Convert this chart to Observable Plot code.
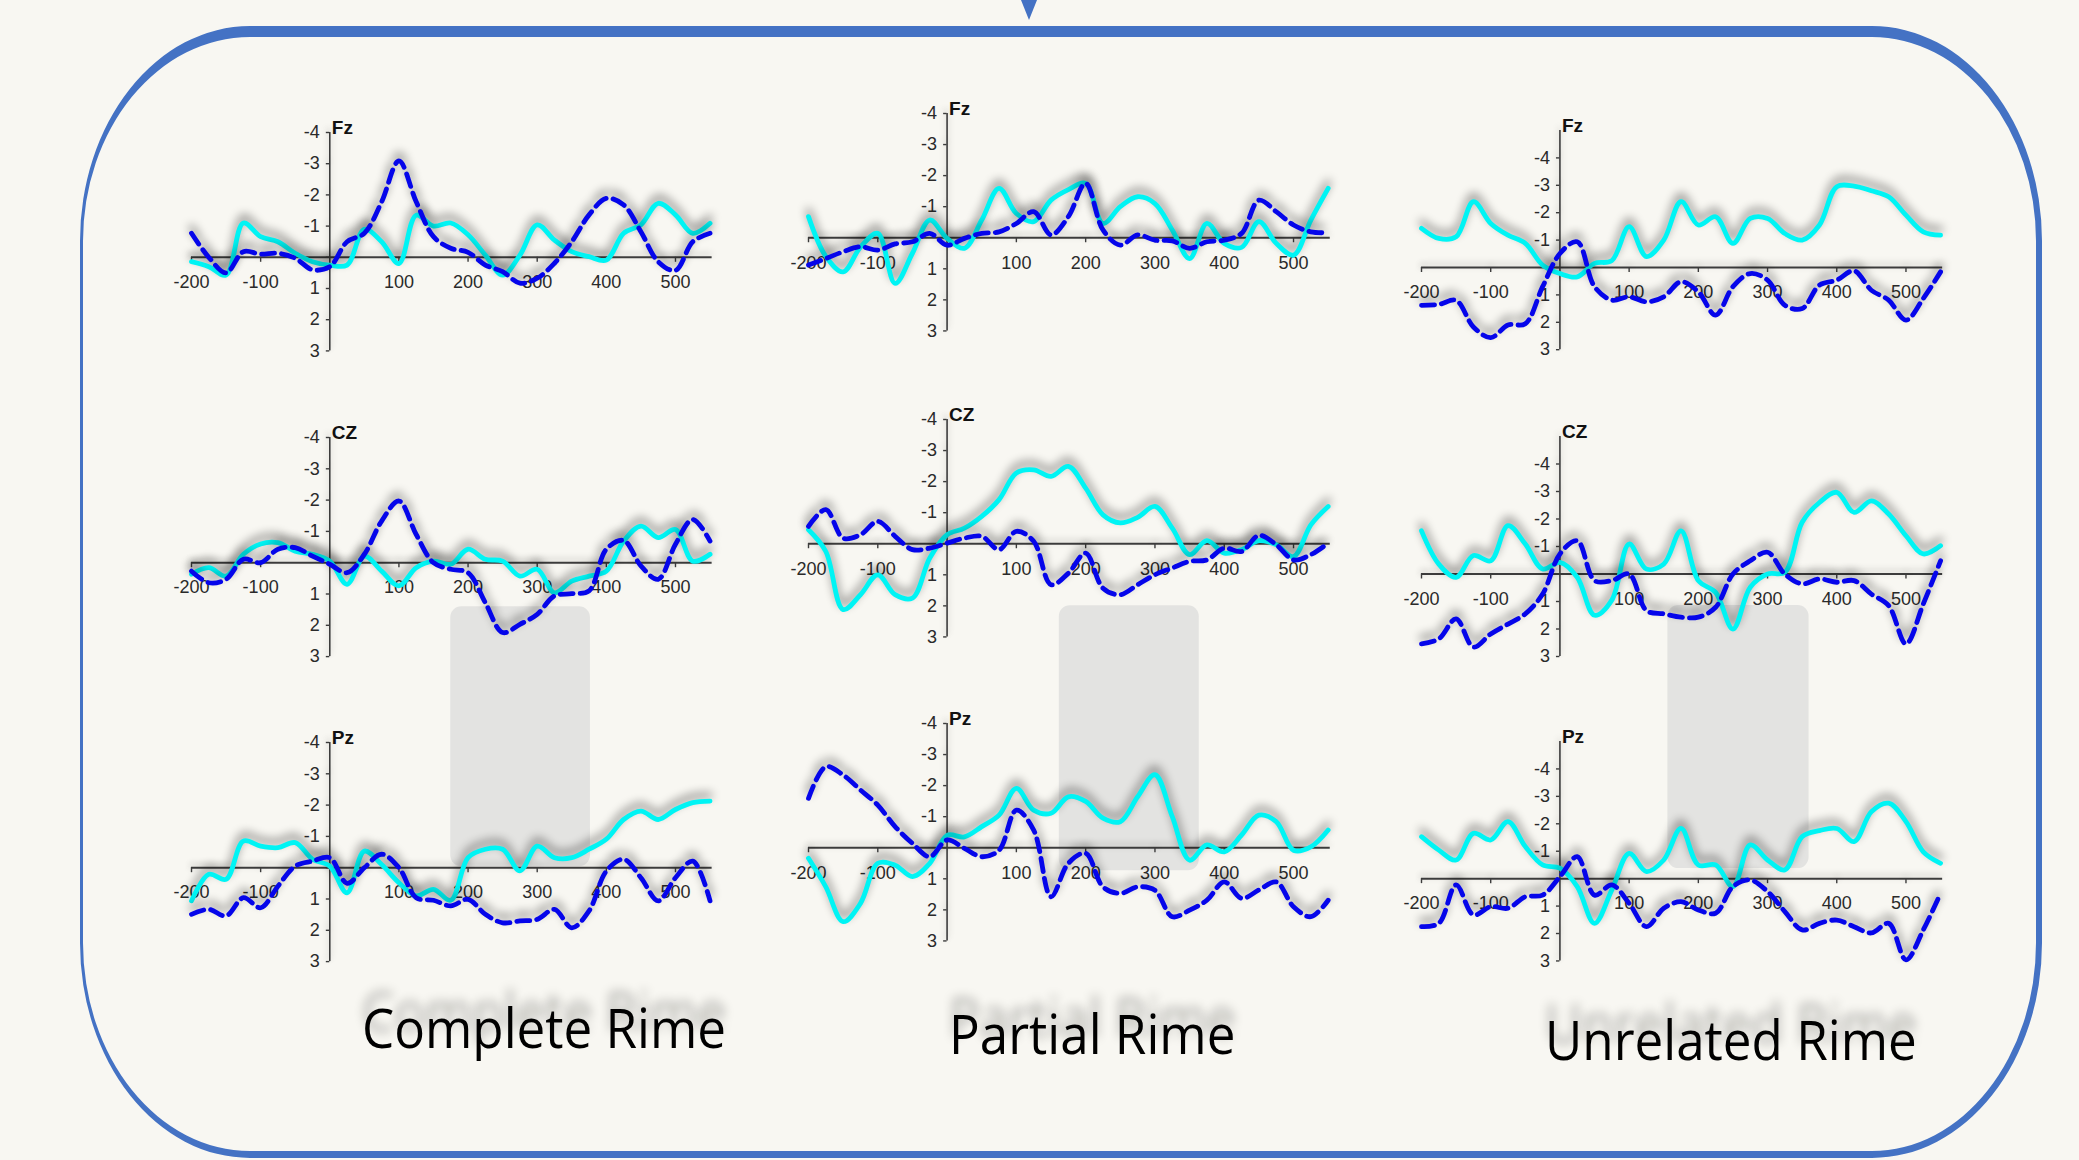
<!DOCTYPE html>
<html>
<head>
<meta charset="utf-8">
<script src="https://cdn.jsdelivr.net/npm/d3@7"></script>
<script src="https://cdn.jsdelivr.net/npm/@observablehq/plot@0.6"></script>
<style>
html, body { margin: 0; padding: 0; background: #f8f7f2; }
#page { position: relative; width: 2079px; height: 1160px; overflow: hidden; background: #f8f7f2; }
.panel { position: absolute; }
.panel svg { overflow: visible; }
.panel g[aria-label="line"] { filter: drop-shadow(0px -6px 5px rgba(0,0,0,0.48)); }
.panel g[aria-label="rule"] { filter: drop-shadow(0px -3px 3px rgba(0,0,0,0.22)); }
.frame { position: absolute; left: 80px; top: 26px; width: 1962px; height: 1132px; box-sizing: border-box;
  border-style: solid; border-color: #4472c4; border-width: 11px 6px 7px 3px; border-radius: 170px / 215px; }
.cond { position: absolute; font-family: "Open Sans", sans-serif; font-size: 55px; line-height: 55px; color: #000;
  white-space: nowrap; transform: scaleX(0.93); transform-origin: left top;
  text-shadow: 0px -17px 11px rgba(0,0,0,0.33); }
</style>
</head>
<body>
<div id="page">
  <div class="frame"></div>
  <svg style="position:absolute;left:1019px;top:0px;overflow:visible" width="20" height="22">
    <polygon points="2,0 18,0 10,20" fill="#4472c4"></polygon>
  </svg>
  <div class="cond" style="left:362px;top:999px;">Complete Rime</div>
  <div class="cond" style="left:949px;top:1005px;">Partial Rime</div>
  <div class="cond" style="left:1545px;top:1011px;">Unrelated Rime</div>
</div>
<script>
// ---------- data ----------
const times = [-200,-175,-150,-125,-100,-75,-50,-25,0,25,50,75,100,125,150,175,200,225,250,275,300,325,350,375,400,425,450,475,500,525,550];
const xTicks = [-200,-100,100,200,300,400,500];
const yTicks = [-4,-3,-2,-1,1,2,3];
const conditions = ["Complete Rime","Partial Rime","Unrelated Rime"];
const electrodes = ["Fz","CZ","Pz"];

// Complete Rime
const completeFzSolid  = [0.14,0.3,0.57,-1.1,-0.66,-0.5,-0.13,0.14,0.25,0.25,-0.9,-0.5,0.2,-1.35,-1.0,-1.1,-0.72,-0.07,0.57,-0.07,-1.04,-0.55,-0.18,-0.02,0.09,-0.77,-1.04,-1.73,-1.36,-0.77,-1.09];
const completeFzDashed = [-0.77,0,0.5,-0.18,-0.1,-0.13,0.03,0.4,0.3,-0.5,-0.77,-1.78,-3.09,-1.78,-0.66,-0.29,-0.16,0.25,0.46,0.83,0.67,0.19,-0.5,-1.36,-1.89,-1.68,-0.82,0.14,0.42,-0.5,-0.77];
const completeCzSolid  = [0.37,0.16,0.43,-0.27,-0.6,-0.64,-0.37,-0.27,-0.05,0.69,-0.21,0.27,0.74,0.16,-0.05,0.05,-0.43,-0.11,-0.05,0.43,0.21,0.96,0.59,0.43,0.27,-0.69,-1.17,-0.8,-1.06,-0.05,-0.27];
const completeCzDashed = [0.27,0.64,0.53,-0.11,0,-0.43,-0.48,-0.21,0.05,0.32,-0.27,-1.33,-1.97,-0.9,0,0.21,0.32,1.28,2.23,1.97,1.65,1.06,0.99,0.9,-0.43,-0.71,0.1,0.53,-0.59,-1.38,-0.69];
const completePzSolid  = [1.06,0.21,0.37,-0.85,-0.69,-0.64,-0.8,-0.27,-0.05,0.8,-0.53,-0.1,0.48,0.9,0.69,1.04,-0.32,-0.59,-0.59,0.1,-0.69,-0.32,-0.32,-0.59,-0.91,-1.54,-1.81,-1.54,-1.86,-2.08,-2.13];
const completePzDashed = [1.49,1.33,1.54,0.96,1.28,0.59,-0.05,-0.21,-0.32,0.5,0,-0.43,0,0.96,1.04,1.22,1.01,1.49,1.76,1.7,1.65,1.33,1.92,1.38,0.11,-0.27,0.32,1.06,0.32,-0.21,1.06];

// Partial Rime
const partialFzSolid  = [-0.68,0.6,1.1,0.3,-0.14,1.47,0.5,-0.57,0.02,0.34,-0.57,-1.59,-0.78,-0.52,-1.21,-1.55,-1.75,-0.46,-1.0,-1.32,-1.1,-0.25,0.67,-0.46,0.18,0.31,-0.52,0.18,0.56,-0.57,-1.59];
const partialFzDashed = [0.88,0.67,0.45,0.29,0.4,0.2,0.13,-0.14,0.24,0.02,-0.14,-0.19,-0.46,-0.84,-0.09,-0.68,-1.75,-0.25,0.24,-0.09,0.08,0.1,0.34,0.13,0.08,-0.14,-1.21,-0.84,-0.41,-0.19,-0.16];
const partialCzSolid  = [-0.45,0.25,2.12,1.64,1.0,1.64,1.75,0.46,-0.29,-0.5,-0.88,-1.42,-2.28,-2.38,-2.17,-2.49,-1.79,-0.93,-0.67,-0.85,-1.2,-0.5,0.35,-0.1,0.3,0.19,-0.1,0.03,0.41,-0.61,-1.2];
const partialCzDashed = [-0.56,-1.1,-0.18,-0.29,-0.72,-0.24,0.19,0.14,-0.02,-0.18,-0.24,0.19,-0.4,-0.08,1.32,0.95,0.3,1.43,1.64,1.32,1.0,0.78,0.57,0.52,0.14,0.25,-0.27,0.03,0.52,0.35,-0.02];
const partialPzSolid  = [0.34,1.26,2.38,1.79,0.5,0.56,0.93,0.5,-0.4,-0.35,-0.68,-1.05,-1.91,-1.21,-1.11,-1.64,-1.49,-0.95,-0.84,-1.64,-2.35,-1.0,0.4,-0.09,0.13,-0.41,-1.05,-0.84,0.08,-0.03,-0.57];
const partialPzDashed = [-1.59,-2.61,-2.34,-1.86,-1.37,-0.68,-0.14,0.29,-0.25,0.02,0.29,0.08,-1.21,-0.57,1.58,0.5,0.18,1.26,1.47,1.26,1.37,2.22,2.01,1.69,1.1,1.63,1.36,1.1,1.9,2.22,1.69];

// Unrelated Rime
const unrelatedFzSolid  = [-1.43,-1.06,-1.12,-2.4,-1.61,-1.18,-0.88,-0.09,0.22,0.34,-0.15,-0.25,-1.49,-0.4,-1.0,-2.4,-1.55,-1.85,-0.88,-1.79,-1.79,-1.24,-1.0,-1.55,-2.95,-2.97,-2.8,-2.58,-1.91,-1.3,-1.18];
const unrelatedFzDashed = [1.38,1.35,1.2,2.17,2.56,2.1,2.05,0.7,-0.51,-0.94,0.7,1.19,1.07,1.25,1.07,0.52,0.89,1.74,0.7,0.22,0.46,1.38,1.5,0.64,0.46,0.12,0.83,1.19,1.92,1.13,0.16];
const unrelatedCzSolid  = [-1.57,-0.36,0.12,-0.67,-0.48,-1.76,-1.09,-0.18,-0.42,0.12,1.5,0.95,-1.09,-0.18,-0.36,-1.57,0.24,0.67,2.0,0.48,0,-0.06,-1.88,-2.6,-2.97,-2.24,-2.66,-2.18,-1.39,-0.73,-1.03];
const unrelatedCzDashed = [2.54,2.36,1.63,2.66,2.18,1.82,1.45,0.73,-0.73,-1.21,0.24,0.24,0,1.33,1.45,1.57,1.57,1.21,0,-0.48,-0.79,0,0.36,0.18,0.3,0.24,0.73,1.15,2.54,1.09,-0.48];
const unrelatedPzSolid  = [-1.53,-1.04,-0.68,-1.65,-1.41,-2.08,-1.17,-0.5,-0.38,0.29,1.63,0.41,-0.92,-0.26,-0.68,-1.83,-0.5,-0.5,0.29,-1.23,-0.68,-0.32,-1.53,-1.75,-1.83,-1.35,-2.44,-2.75,-2.08,-0.98,-0.56];
const unrelatedPzDashed = [1.75,1.63,0.23,1.32,1.02,1.08,0.66,0.6,-0.07,-0.8,0.6,0.23,0.9,1.75,1.08,0.84,1.14,1.26,0.29,0.05,0.47,1.2,1.87,1.63,1.51,1.75,1.98,1.63,2.96,1.87,0.53];

// shaded analysis window (ms)
const windowStart = [175, 162, 156];
const windowEnd   = [377, 364, 360];

const solidSeries  = [[completeFzSolid, completeCzSolid, completePzSolid],
                      [partialFzSolid, partialCzSolid, partialPzSolid],
                      [unrelatedFzSolid, unrelatedCzSolid, unrelatedPzSolid]];
const dashedSeries = [[completeFzDashed, completeCzDashed, completePzDashed],
                      [partialFzDashed, partialCzDashed, partialPzDashed],
                      [unrelatedFzDashed, unrelatedCzDashed, unrelatedPzDashed]];

// ---------- layout ----------
const layout = [
  {x0: 191,    kx: 0.6914, ytop: -4, rows: [{y0: 256.5, ky: 31.2}, {y0: 562,   ky: 31.3}, {y0: 866.8, ky: 31.3}], boxPx: [606, 866]},
  {x0: 808,    kx: 0.6929, ytop: -4, rows: [{y0: 237.5, ky: 31.06}, {y0: 543,  ky: 31.06}, {y0: 847.6, ky: 31.06}], boxPx: [605, 870]},
  {x0: 1420.6, kx: 0.6921, ytop: -5, rows: [{y0: 267.2, ky: 27.4}, {y0: 573.4, ky: 27.5}, {y0: 878.5, ky: 27.43}], boxPx: [605, 868]}
];

const page = document.getElementById("page");
const labelFont = "'Liberation Sans', Arial, sans-serif";
const XMAX = 553;

function drawPanel(ci, ri) {
  const col = layout[ci], row = col.rows[ri];
  const padL = 80, padT = 40;
  const xr = 753 * col.kx;
  const yr = (3 - col.ytop) * row.ky;
  const width = Math.round(padL + xr + 30);
  const height = Math.round(padT + yr + 45);
  const data = times.map((t, i) => ({t, s: solidSeries[ci][ri][i], d: dashedSeries[ci][ri][i]}));
  const marks = [];
  if (ri === 1) {
    const v1 = (col.boxPx[0] - row.y0) / row.ky, v2 = (col.boxPx[1] - row.y0) / row.ky;
    marks.push(Plot.rect([{t1: windowStart[ci], t2: windowEnd[ci], v1, v2}],
      {x1: "t1", x2: "t2", y1: "v1", y2: "v2", fill: "#e3e3e1", rx: 11}));
  }
  marks.push(
    Plot.ruleY([0], {x1: -200, x2: XMAX, stroke: "#3c3c3c", strokeWidth: 2}),
    Plot.ruleX([0], {y1: col.ytop, y2: 3, stroke: "#3c3c3c", strokeWidth: 1.6}),
    Plot.ruleX(xTicks, {x: d => d, y1: 0, y2: 5 / row.ky, stroke: "#3c3c3c", strokeWidth: 1.4}),
    Plot.ruleY([-4,-3,-2,-1,0,1,2,3], {y: d => d, x1: -5, x2: 0, stroke: "#3c3c3c", strokeWidth: 1.4}),
    Plot.text(xTicks, {x: d => d, y: 0, dy: 25, text: d => String(d), fontSize: 18, fontFamily: labelFont, fill: "#2a2a2a"}),
    Plot.text(yTicks, {x: 0, y: d => d, dx: -10, textAnchor: "end", text: d => String(d), fontSize: 18, fontFamily: labelFont, fill: "#2a2a2a"}),
    Plot.text([electrodes[ri]], {x: 0, y: col.ytop, dx: 2, dy: 1, textAnchor: "start", lineAnchor: "bottom", text: d => d,
      fontSize: 19, fontWeight: "bold", fontFamily: labelFont, fill: "#111"}),
    Plot.line(data, {x: "t", y: "s", stroke: "#00f4f4", strokeWidth: 4.8, curve: "catmull-rom"}),
    Plot.line(data, {x: "t", y: "d", stroke: "#0505ea", strokeWidth: 4.8, strokeDasharray: "13,7", curve: "catmull-rom"})
  );
  const svg = Plot.plot({
    width, height,
    x: {domain: [-200, XMAX], range: [padL, padL + xr], axis: null},
    y: {domain: [col.ytop, 3], range: [padT, padT + yr], axis: null},
    style: {background: "transparent", overflow: "visible"},
    marks
  });
  const div = document.createElement("div");
  div.className = "panel";
  div.style.left = (col.x0 - padL) + "px";
  div.style.top = (row.y0 + col.ytop * row.ky - padT) + "px";
  div.style.width = width + "px";
  div.style.height = height + "px";
  div.appendChild(svg);
  page.appendChild(div);
}

for (let ri = 0; ri < 3; ri++) for (let ci = 0; ci < 3; ci++) drawPanel(ci, ri);
</script>
</body>
</html>
